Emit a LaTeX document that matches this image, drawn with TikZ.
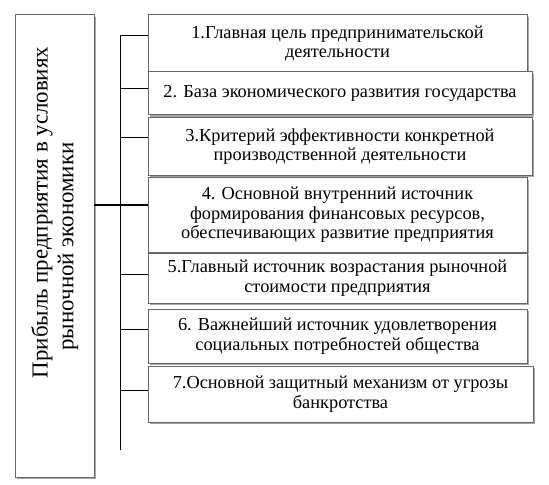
\documentclass[tikz,border=0pt]{standalone}
\usepackage{fontspec}
\setmainfont{Liberation Serif}
\usetikzlibrary{shadows}
\begin{document}
\begin{tikzpicture}[x=1bp,y=-1bp,
  box/.style={draw=black!60, fill=white, line width=1bp,
    drop shadow={shadow xshift=2bp, shadow yshift=-2bp, fill=black!35, opacity=1},
    inner sep=0pt, outer sep=0pt, align=center, anchor=north west,
    font=\fontsize{18.4}{19.5}\selectfont},
  conn/.style={draw=black, line width=1bp},
  side/.style={rotate=90, inner sep=0pt, font=\fontsize{23}{26}\selectfont}]
\useasboundingbox (0,0) rectangle (549,485);
% left box
\node[box, minimum width=79bp, minimum height=462bp] (L) at (15,15) {};
\node[side] (t1) at (42,212.5) {Прибыль предприятия в условиях};
\node[side] (t2) at (68,246.5) {рыночной экономики};
% right boxes
\node[box, minimum width=379bp, minimum height=57bp] (b1) at (148,15)
  {1.Главная цель предпринимательской\\деятельности};
\node[box, minimum width=384bp, minimum height=43bp] (b2) at (148,72)
  {2. База экономического развития государства};
\node[box, minimum width=384bp, minimum height=57bp] (b3) at (148,118)
  {3.Критерий эффективности конкретной\\производственной деятельности};
\node[box, minimum width=379bp, minimum height=74bp] (b4) at (148,178)
  {4. Основной внутренний источник\\формирования финансовых ресурсов,\\обеспечивающих развитие предприятия};
\node[box, minimum width=379bp, minimum height=50bp] (b5) at (148,253)
  {5.Главный источник возрастания рыночной\\стоимости предприятия};
\node[box, minimum width=379bp, minimum height=54bp] (b6) at (148,309)
  {6. Важнейший источник удовлетворения\\социальных потребностей общества};
\node[box, minimum width=385bp, minimum height=56bp] (b7) at (148,366)
  {7.Основной защитный механизм от угрозы\\банкротства};
% bus
\coordinate (top) at (120,36);
\coordinate (bot) at (120,450);
\coordinate (j1) at (120,36);
\coordinate (j2) at (120,89);
\coordinate (j3) at (120,138);
\coordinate (j4) at (120,205);
\coordinate (j5) at (120,274);
\coordinate (j6) at (120,329);
\coordinate (j7) at (120,390);
\draw[conn] (top) -- (bot);
\draw[conn] (L.east |- j4) -- (b4.west |- j4);
\foreach \i in {1,2,3,5,6,7} \draw[conn] (j\i) -- (b\i.west |- j\i);
\end{tikzpicture}
\end{document}
